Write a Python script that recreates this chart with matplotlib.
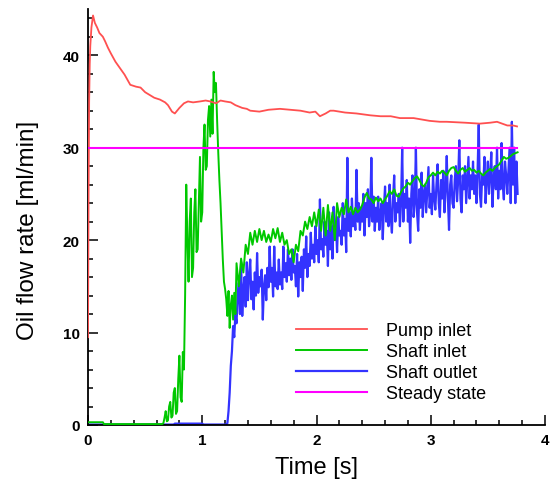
import numpy as np
import matplotlib
matplotlib.use("Agg")
import matplotlib.pyplot as plt
from matplotlib.ticker import MultipleLocator

# ---------------- data ----------------
red_t = [0.0, 0.005, 0.01, 0.015, 0.02, 0.03, 0.044, 0.06, 0.08, 0.1, 0.13, 0.15,
         0.175, 0.2, 0.24, 0.28, 0.32, 0.37, 0.42, 0.46, 0.5, 0.54, 0.58, 0.63,
         0.675, 0.7, 0.735, 0.76, 0.8, 0.84, 0.875, 0.92, 0.98, 1.03, 1.07, 1.12,
         1.16, 1.2, 1.25, 1.29, 1.35, 1.39, 1.42, 1.5, 1.58, 1.68, 1.77, 1.86,
         1.94, 1.99, 2.03, 2.08, 2.12, 2.15, 2.25, 2.35, 2.47, 2.56, 2.65, 2.73,
         2.85, 2.99, 3.08, 3.14, 3.3, 3.43, 3.52, 3.58, 3.67, 3.72, 3.755]
red_v = [9.5, 25.0, 35.0, 39.0, 41.0, 43.0, 44.3, 43.5, 43.0, 42.4, 42.0, 41.5,
         40.8, 40.2, 39.3, 38.6, 37.9, 36.8, 36.6, 36.5, 36.0, 35.7, 35.4, 35.2,
         34.9, 34.6, 33.9, 33.7, 34.3, 34.8, 35.0, 34.9, 35.0, 35.1, 35.0, 34.8,
         35.1, 35.0, 34.9, 34.6, 34.3, 34.2, 34.0, 33.9, 34.1, 34.2, 34.1, 34.0,
         33.8, 33.9, 33.4, 33.7, 34.0, 34.0, 33.8, 33.7, 33.5, 33.4, 33.4, 33.2,
         33.2, 32.9, 32.8, 32.8, 32.7, 32.6, 32.7, 32.8, 32.4, 32.4, 32.3]

# Shaft inlet: flat start, then 0.01 s samples (0.66-1.30), then 0.02 s samples (1.32-3.76)
green_t_head = [0.0, 0.13, 0.14, 0.65]
green_v_head = [0.3, 0.3, 0.1, 0.1]
green_v_fast = [
    0.2, 0.8, 1.5, 0.4, 0.5, 2.0, 2.5, 0.8, 1.0, 3.5,            # 0.66 - 0.75
    4.0, 1.2, 1.5, 5.0, 7.5, 3.0, 2.5, 7.9, 6.0, 14.0,           # 0.76 - 0.85
    26.0, 20.0, 15.5, 22.0, 24.5, 16.0, 17.0, 23.0, 25.5, 18.7,  # 0.86 - 0.95
    19.0, 24.0, 29.0, 22.0, 23.0, 30.0, 32.5, 27.6, 28.0, 33.0,  # 0.96 - 1.05
    34.5, 31.2, 35.2, 31.5, 38.2, 36.0, 37.0, 33.0, 29.5, 26.5,  # 1.06 - 1.15
    24.0, 21.0, 17.9, 15.5, 14.7, 13.6, 11.8, 14.5, 10.5, 13.0,  # 1.16 - 1.25
    14.0, 11.4, 14.3, 12.0, 17.5]                                 # 1.26 - 1.30
green_v_slow = [
    15.0, 18.0, 16.5, 19.5, 18.5, 20.8, 19.5,                    # 1.32 - 1.44
    21.0, 19.8, 21.2, 20.0, 21.0, 19.8, 20.6, 19.8, 21.2, 20.2,  # 1.46 - 1.64
    21.3, 19.8, 20.8, 19.5, 20.0, 18.5, 19.0, 17.6, 19.5, 18.8,  # 1.66 - 1.84
    21.0, 20.5, 22.0, 21.2, 22.5, 21.5, 23.0, 21.5, 23.3, 21.0,  # 1.86 - 2.04
    23.5, 20.5, 23.8, 21.0, 23.0, 20.0, 24.0, 22.5, 23.5, 22.8,  # 2.06 - 2.24
    24.4, 23.0, 23.6, 22.8, 23.5, 23.0, 23.3, 23.8, 24.6, 25.1,  # 2.26 - 2.44
    24.5, 24.4, 24.0, 24.6, 24.2, 24.5, 24.0, 24.4, 24.8, 25.3,  # 2.46 - 2.64
    25.0, 25.5, 24.8, 24.7, 25.2, 25.6, 25.8, 26.2, 26.0, 26.4,  # 2.66 - 2.84
    26.7, 26.9, 26.5, 26.0, 25.8, 26.2, 26.8, 27.0, 27.3, 27.0,  # 2.86 - 3.04
    27.4, 27.2, 27.5, 27.3, 27.0, 27.5, 27.8, 27.9, 27.5, 27.2,  # 3.06 - 3.24
    27.6, 27.8, 27.4, 27.6, 27.8, 27.5, 27.6, 27.3, 27.5, 27.2,  # 3.26 - 3.44
    27.0, 27.3, 27.5, 27.7, 27.5, 27.8, 28.0, 28.2, 28.6, 29.0,  # 3.46 - 3.64
    28.8, 28.9, 29.1, 29.3, 29.4, 29.5]                           # 3.66 - 3.76

# Shaft outlet: flat start, then 0.01 s samples from 1.22 s
blue_t_head = [0.0, 0.75, 0.76, 1.0, 1.01, 1.21]
blue_v_head = [0.05, 0.05, 0.15, 0.15, 0.05, 0.05]
blue_v = [
    0.2, 1.5, 3.5, 6.4, 8.0, 10.7, 9.5, 12.0, 11.0, 14.0,        # 1.22 - 1.31
    15.4, 12.0, 17.6, 11.8, 14.7, 16.0, 12.8, 17.6, 13.5, 16.2,  # 1.32 - 1.41
    17.9, 13.6, 15.5, 12.5, 16.5, 14.0, 18.6, 14.3, 16.0, 15.0,  # 1.42 - 1.51
    16.8, 11.4, 15.0, 16.2, 13.5, 17.0, 14.9, 19.3, 15.5, 17.0,  # 1.52 - 1.61
    13.9, 19.3, 15.0, 16.5, 14.7, 17.9, 15.2, 16.5, 14.7, 19.3,  # 1.62 - 1.71
    16.0, 17.5, 15.5, 19.0, 16.2, 18.0, 15.7, 19.0, 16.5, 17.2,  # 1.72 - 1.81
    15.0, 18.5, 13.9, 17.6, 16.0, 18.2, 14.5, 19.0, 17.0, 20.4,  # 1.82 - 1.91
    16.0, 18.5, 17.2, 20.8, 18.0, 19.5, 17.6, 21.5, 18.5, 20.0,  # 1.92 - 2.01
    17.6, 24.4, 19.0, 20.1, 18.2, 22.0, 19.5, 21.0, 17.2, 23.0,  # 2.02 - 2.11
    19.0, 21.5, 18.0, 23.6, 20.0, 22.0, 18.7, 22.5, 20.5, 21.0,  # 2.12 - 2.21
    19.5, 24.0, 20.5, 22.3, 18.7, 28.9, 21.0, 23.0, 20.4, 24.5,  # 2.22 - 2.31
    21.5, 23.0, 21.1, 27.6, 22.0, 24.0, 21.1, 23.5, 22.0, 25.0,  # 2.32 - 2.41
    20.5, 24.0, 22.5, 25.5, 21.5, 23.0, 28.9, 22.0, 24.7, 21.0,  # 2.42 - 2.51
    23.5, 22.0, 24.7, 21.1, 23.0, 24.0, 20.1, 23.5, 25.8, 22.0,  # 2.52 - 2.61
    24.0, 21.5, 26.0, 22.5, 20.8, 24.5, 27.0, 22.0, 24.0, 23.0,  # 2.62 - 2.71
    25.0, 21.5, 24.0, 30.0, 22.0, 25.0, 23.5, 26.5, 22.0, 24.5,  # 2.72 - 2.81
    19.7, 25.0, 27.0, 22.5, 24.0, 30.0, 23.0, 21.0, 25.5, 23.5,  # 2.82 - 2.91
    27.3, 22.5, 25.0, 26.0, 23.0, 25.5, 27.9, 23.5, 25.0, 22.8,  # 2.92 - 3.01
    27.0, 24.5, 23.3, 26.0, 28.2, 24.0, 22.5, 26.5, 24.5, 27.5,  # 3.02 - 3.11
    23.0, 25.5, 29.1, 24.5, 21.1, 26.0, 27.0, 24.0, 23.5, 26.5,  # 3.12 - 3.21
    28.0, 24.2, 26.5, 30.8, 24.5, 23.0, 27.0, 25.5, 28.0, 24.0,  # 3.22 - 3.31
    26.5, 29.0, 24.5, 27.0, 25.5, 28.5, 25.0, 27.0, 24.0, 27.5,  # 3.32 - 3.41
    32.5, 25.0, 23.6, 27.0, 26.0, 29.0, 24.0, 26.5, 28.5, 25.0,  # 3.42 - 3.51
    27.0, 29.5, 23.6, 26.5, 28.0, 25.5, 30.0, 24.5, 27.5, 25.5,  # 3.52 - 3.61
    30.5, 26.0, 24.4, 28.5, 27.0, 25.0, 27.5, 30.0, 24.0, 32.8,  # 3.62 - 3.71
    26.0, 30.0, 24.0, 28.5, 25.0]                                 # 3.72 - 3.76

steady_t = [0.0, 3.755]
steady_v = [30.0, 30.0]

labels = ["Pump inlet", "Shaft inlet", "Shaft outlet", "Steady state"]
colors = ["#FF5050", "#00C800", "#3333FF", "#FF00FF"]

green_t = (green_t_head
           + list(np.round(0.66 + 0.01 * np.arange(len(green_v_fast)), 3))
           + list(np.round(1.32 + 0.02 * np.arange(len(green_v_slow)), 3)))
green_all = green_v_head + green_v_fast + green_v_slow
blue_t = blue_t_head + list(np.round(1.22 + 0.01 * np.arange(len(blue_v)), 3))
blue_all = blue_v_head + blue_v

# ---------------- figure ----------------
plt.rcParams['font.family'] = ['Liberation Sans', 'DejaVu Sans']
fig = plt.figure(figsize=(5.55, 4.81), dpi=100)
ax = fig.add_axes([88 / 555, 55 / 481, 457 / 555, 416 / 481])

ax.plot(red_t, red_v, color=colors[0], lw=1.3, label=labels[0], zorder=4)
ax.plot(green_t, green_all, color=colors[1], lw=1.4, label=labels[1], zorder=3)
ax.plot(blue_t, blue_all, color=colors[2], lw=1.6, label=labels[2], zorder=2)
ax.plot(steady_t, steady_v, color=colors[3], lw=1.5, label=labels[3], zorder=5)

ax.set_xlim(0, 4)
ax.set_ylim(0, 45)
ax.spines['top'].set_visible(False)
ax.spines['right'].set_visible(False)
for s in ('left', 'bottom'):
    ax.spines[s].set_linewidth(1.3)

ax.xaxis.set_major_locator(MultipleLocator(1))
ax.xaxis.set_minor_locator(MultipleLocator(0.2))
ax.yaxis.set_major_locator(MultipleLocator(10))
ax.yaxis.set_minor_locator(MultipleLocator(2))
ax.tick_params(which='both', direction='in', width=1.1)
ax.tick_params(which='major', length=7, labelsize=11, pad=6)
ax.tick_params(which='minor', length=3.5)
for lab in ax.get_xticklabels() + ax.get_yticklabels():
    lab.set_fontweight('bold')

ax.set_xlabel("Time [s]", fontsize=17)
ax.set_ylabel("Oil flow rate [ml/min]", fontsize=17.5)
ax.xaxis.set_label_coords(0.5, -0.075)
ax.yaxis.set_label_coords(-0.107, 0.47)

ax.legend(loc='upper left', bbox_to_anchor=(0.455, 0.247), frameon=False,
          fontsize=13, handlelength=3.95, handletextpad=1.05,
          labelspacing=0.22, borderpad=0, borderaxespad=0)

fig.savefig("out.png", dpi=100)
